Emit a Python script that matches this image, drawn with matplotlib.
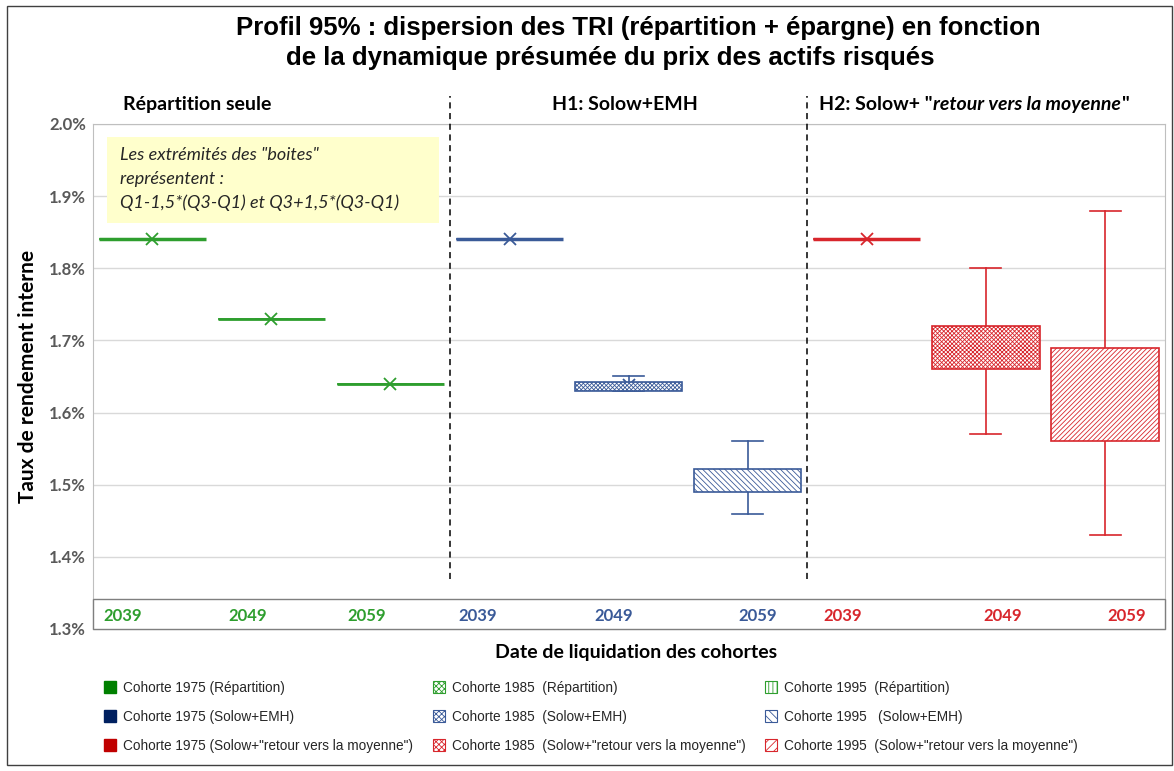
import matplotlib
matplotlib.use("Agg")
import matplotlib.pyplot as plt
from matplotlib.patches import Patch, Rectangle
from matplotlib.ticker import FuncFormatter
import numpy as np

# Données (TRI en %)
annees = ["2039", "2049", "2059"] * 3
groupes = ["rep", "rep", "rep", "emh", "emh", "emh", "moy", "moy", "moy"]
whis_bas = [1.84, 1.73, 1.64, 1.84, 1.630, 1.46, 1.84, 1.57, 1.43]
q1 = [1.84, 1.73, 1.64, 1.84, 1.630, 1.490, 1.84, 1.66, 1.56]
mediane = [1.84, 1.73, 1.64, 1.84, 1.636, 1.500, 1.84, 1.68, 1.62]
q3 = [1.84, 1.73, 1.64, 1.84, 1.642, 1.522, 1.84, 1.72, 1.69]
whis_haut = [1.84, 1.73, 1.64, 1.84, 1.650, 1.56, 1.84, 1.80, 1.88]
moyenne = [1.84, 1.73, 1.64, 1.84, 1.638, 1.506, 1.84, 1.686, 1.631]
hachures = [None, "xxxxxxxx", "||||", None, "xxxxxxxx", "\\\\\\\\\\\\", None, "xxxxxxxx", "///////"]
decalage_annee = [-0.25, -0.2, -0.2, -0.27, -0.13, 0.08, -0.2, 0.14, 0.18]

couleurs = {"rep": "#2E9E2E", "emh": "#3A5A98", "moy": "#D8262C"}
couleurs_leg = {"rep": "#008000", "emh": "#002060", "moy": "#C00000"}
epaisseurs = [2.5, 2.0, 2.0, 2.5, 1.2, 1.2, 2.5, 1.2, 1.2]

plt.rcParams["hatch.linewidth"] = 0.6

fig = plt.figure(figsize=(11.74, 7.71), dpi=100)
ax = fig.add_axes([0.0790, 0.1842, 0.9130, 0.655])

# Boîtes à moustaches
positions = np.arange(len(annees))
for i in range(len(annees)):
    s = dict(whislo=whis_bas[i], q1=q1[i], med=mediane[i], q3=q3[i],
             whishi=whis_haut[i], mean=moyenne[i], fliers=[])
    c = couleurs[groupes[i]]
    bp = ax.bxp([s], positions=[positions[i]], widths=0.9, capwidths=0.26,
                patch_artist=True, showmeans=True, showfliers=False,
                boxprops=dict(facecolor="white", edgecolor=c, linewidth=epaisseurs[i]),
                medianprops=dict(color=c, linewidth=1.2),
                whiskerprops=dict(color=c, linewidth=1.2),
                capprops=dict(color=c, linewidth=1.2),
                meanprops=dict(marker="x", markeredgecolor=c, markersize=8,
                               markeredgewidth=1.3))
    if hachures[i]:
        bp["boxes"][0].set_hatch(hachures[i])
    bp["boxes"][0].set_zorder(3)

ax.set_xlim(-0.5, 8.5)
ax.set_ylim(1.3, 2.0)
ax.set_yticks(np.arange(1.3, 2.01, 0.1))
ax.yaxis.set_major_formatter(FuncFormatter(lambda v, p: f"{v:.1f}%"))
ax.set_xticks([])
ax.tick_params(axis="y", length=0, pad=5, labelsize=12, labelcolor="#595959")
for lab in ax.get_yticklabels():
    lab.set_fontfamily("Lato")
    lab.set_fontweight("bold")
ax.grid(axis="y", color="#D9D9D9", linewidth=1)
ax.set_axisbelow(True)
for sp in ax.spines.values():
    sp.set_color("#BFBFBF")

# Bandeau des années
ax.add_patch(Rectangle((0, 0), 1, 0.0594, transform=ax.transAxes, facecolor="white",
                       edgecolor="#7F7F7F", linewidth=1, zorder=4, clip_on=False))
for i, a in enumerate(annees):
    ax.text(positions[i] + decalage_annee[i], 1.3 + 0.0297 * 0.6, a,
            ha="center", va="center", fontsize=12, fontweight="bold",
            family="Lato", color=couleurs[groupes[i]], zorder=5)

# Séparateurs
for xs in [2.5, 5.5]:
    ax.axvline(xs, ymin=0.099, ymax=1.0554, color="black", linestyle=(0, (4, 3)),
               linewidth=1.1, clip_on=False, zorder=5)

# Encadré
ax.add_patch(Rectangle((-0.38, 1.8627), 2.79, 0.1193, facecolor="#FFFFCC",
                       edgecolor="none", zorder=2))
ax.text(-0.27, 1.9675, "Les extrémités des \"boites\"\nreprésentent :\nQ1-1,5*(Q3-Q1) et Q3+1,5*(Q3-Q1)",
        ha="left", va="top", fontsize=13, style="italic", family="Lato",
        color="#262626", linespacing=1.55, zorder=3)

# Titres de sections
y_sec = 1.0376
ax.text(-0.25, y_sec, "Répartition seule", transform=ax.get_xaxis_transform(),
        ha="left", va="center", fontsize=14, fontweight="bold", family="Lato")
ax.text(3.97, y_sec, "H1: Solow+EMH", transform=ax.get_xaxis_transform(),
        ha="center", va="center", fontsize=14, fontweight="bold", family="Lato")
t1 = ax.text(5.6, y_sec, "H2: Solow+ \"", transform=ax.get_xaxis_transform(),
             ha="left", va="center", fontsize=14, fontweight="bold", family="Lato")
fig.canvas.draw()
r = fig.canvas.get_renderer()
bb = t1.get_window_extent(r)
y_mid = (bb.y0 + bb.y1) / 2 / fig.bbox.height
t2 = fig.text(bb.x1 / fig.bbox.width, y_mid, "retour vers la moyenne", ha="left",
              va="center", fontsize=14, fontweight="bold", style="italic", family="Lato")
bb2 = t2.get_window_extent(r)
fig.text(bb2.x1 / fig.bbox.width + 0.001, y_mid, "\"", ha="left", va="center",
         fontsize=14, fontweight="bold", family="Lato")

# Titre principal
fig.text(0.5434, 0.9637, "Profil 95% : dispersion des TRI (répartition + épargne) en fonction",
         ha="center", va="center", fontsize=18.5, fontweight="bold", family="Liberation Sans")
fig.text(0.5200, 0.9248, "de la dynamique présumée du prix des actifs risqués",
         ha="center", va="center", fontsize=18.5, fontweight="bold", family="Liberation Sans")

ax.set_ylabel("Taux de rendement interne", fontsize=15, fontweight="bold",
              family="Lato", labelpad=8)
fig.text(0.542, 0.154, "Date de liquidation des cohortes", ha="center", va="center",
         fontsize=14, fontweight="bold", family="Lato")

# Légende
libelles = {
    "rep": ["Cohorte 1975 (Répartition)", "Cohorte 1985  (Répartition)", "Cohorte 1995  (Répartition)"],
    "emh": ["Cohorte 1975 (Solow+EMH)", "Cohorte 1985  (Solow+EMH)", "Cohorte 1995   (Solow+EMH)"],
    "moy": ["Cohorte 1975 (Solow+\"retour vers la moyenne\")",
            "Cohorte 1985  (Solow+\"retour vers la moyenne\")",
            "Cohorte 1995  (Solow+\"retour vers la moyenne\")"],
}
hach_leg = {"rep": "||||", "emh": "\\\\\\\\", "moy": "////"}
handles, labels = [], []
for k in range(3):
    for g in ["rep", "emh", "moy"]:
        if k == 0:
            h = Patch(facecolor=couleurs_leg[g], edgecolor=couleurs_leg[g])
        elif k == 1:
            h = Patch(facecolor="white", edgecolor=couleurs[g], hatch="xxxxxx", linewidth=0.8)
        else:
            h = Patch(facecolor="white", edgecolor=couleurs[g], hatch=hach_leg[g], linewidth=0.8)
        handles.append(h)
        labels.append(libelles[g][k])
fig.legend(handles, labels, ncol=3, loc="upper left", bbox_to_anchor=(0.0826, 0.126),
           frameon=False, prop={"family": "Liberation Sans", "size": 9.8},
           labelcolor="#262626", handlelength=0.9, handleheight=0.9, handletextpad=0.5,
           columnspacing=1.45, labelspacing=1.1, borderpad=0)

# Cadre extérieur
fig.add_artist(Rectangle((0.006, 0.008), 0.992, 0.984, transform=fig.transFigure,
                         fill=False, edgecolor="#404040", linewidth=1))

fig.savefig("out.png", dpi=100)
